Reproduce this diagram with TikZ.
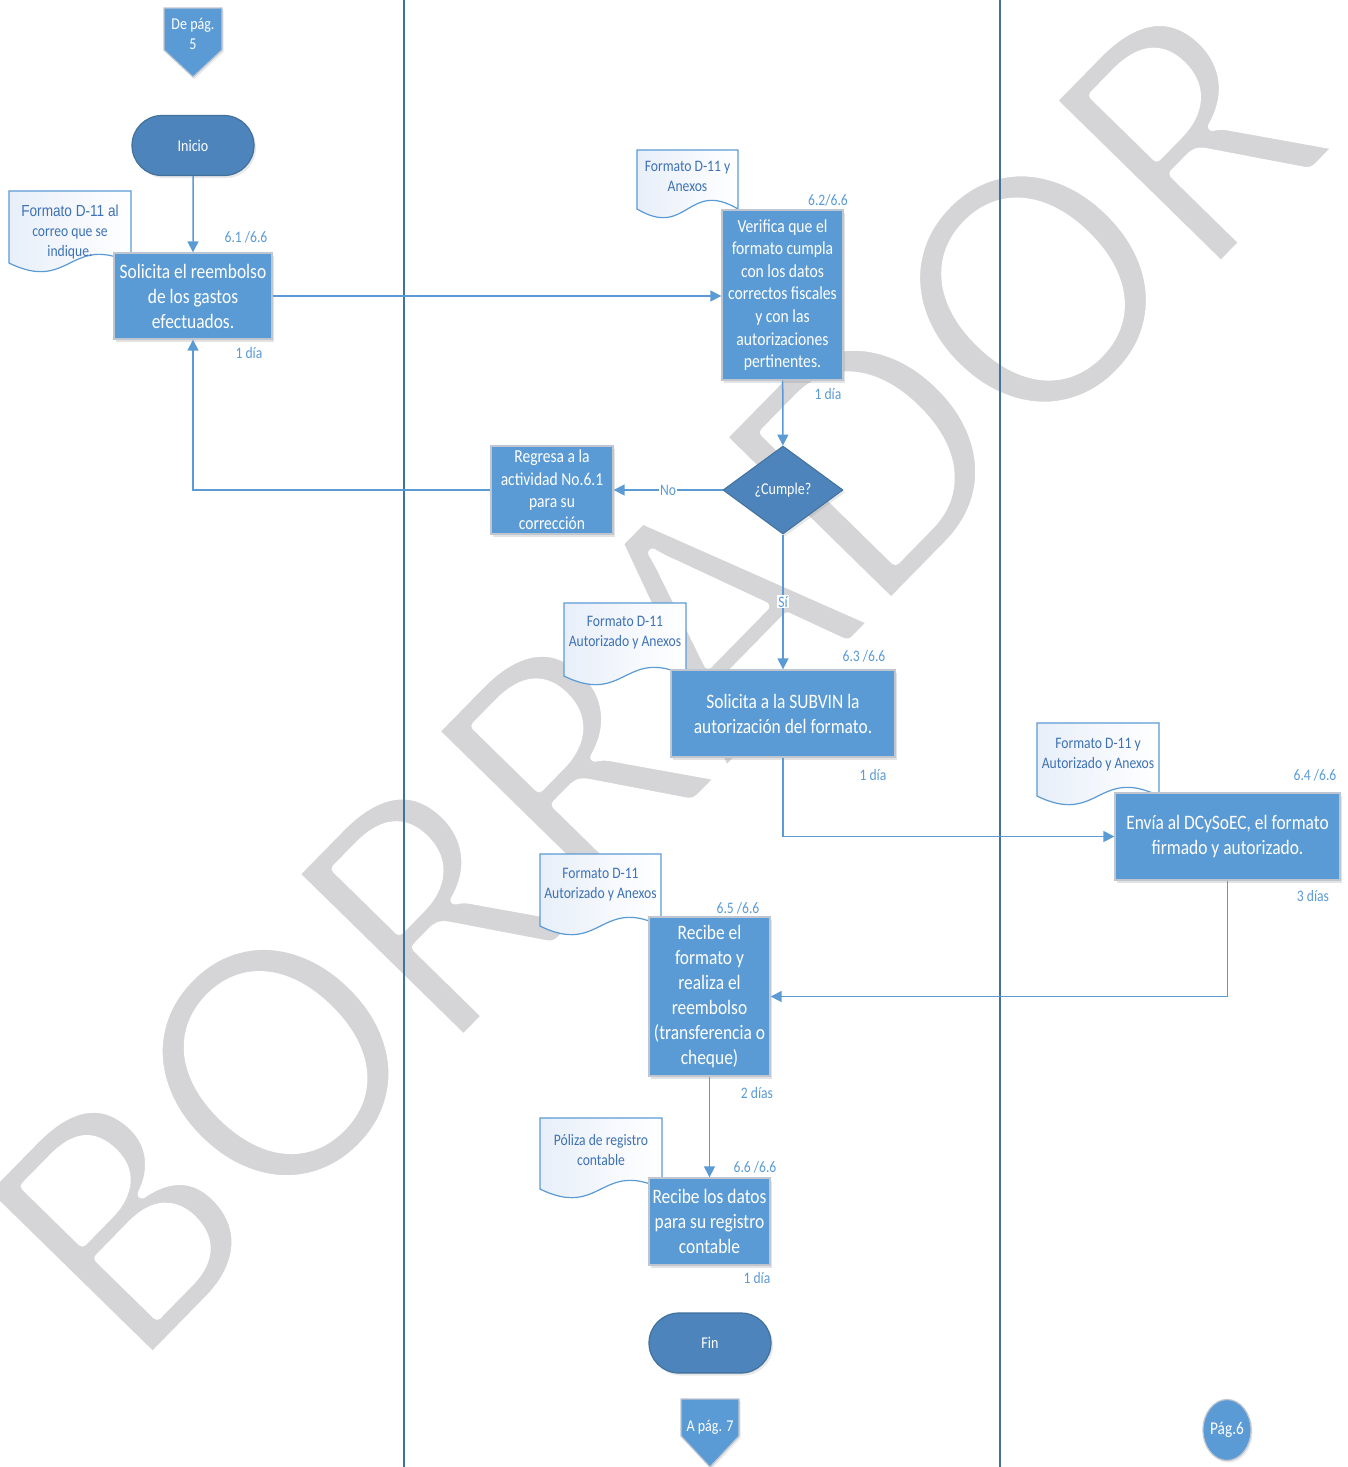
\documentclass[tikz,border=0pt]{standalone}
\usepackage{fontspec}
\setmainfont{Carlito}[FakeStretch=0.85]
\newfontfamily\arialc{Liberation Sans}[FakeStretch=0.85]
\newfontfamily\wmfont{Carlito}
\usetikzlibrary{shapes.geometric,shapes.misc,arrows.meta,shadows}

\definecolor{boxblue}{HTML}{5B9BD5}
\definecolor{termblue}{HTML}{4D84BB}
\definecolor{termedge}{HTML}{41719C}
\definecolor{boxedge}{HTML}{BFC6CF}
\definecolor{lanecol}{HTML}{41719C}
\definecolor{doctxt}{HTML}{3E72B5}
\definecolor{docfill}{HTML}{E8EFF9}
\definecolor{wmgray}{HTML}{D5D4D6}

% document symbol: name, left x, top y, right x, wave base y, text y, text
\newcommand\flowdoc[7]{%
  \draw[docshape] (#2,#3) -- (#4,#3) -- (#4,#5)
    .. controls ({(#2+#4)/2},{#5-30}) and ({(#2+#4)/2},{#5+30}) .. (#2,#5) -- cycle;
  \node[doctext] (#1) at ({(#2+#4)/2},#6) {#7};
}
% light-weight watermark letters: glyphs filled, then outlined in white
\newcommand\thinletters[1]{%
  \special{pdf:literal direct 2 Tr 9 w 1 1 1 RG 1 j}#1\special{pdf:literal direct 0 Tr}}

\begin{document}
\begin{tikzpicture}[x=1pt,y=-1pt,
  procbox/.style={draw=boxedge, line width=1.4pt, fill=boxblue, text=white,
    align=center, inner sep=0pt,
    drop shadow={shadow xshift=2pt, shadow yshift=-2.5pt, opacity=0.22}},
  termbox/.style={rounded rectangle, draw=termedge, line width=1.2pt, fill=termblue,
    text=white, inner sep=0pt, minimum width=122pt, minimum height=60pt,
    font=\fontsize{16.5}{19}\selectfont,
    drop shadow={shadow xshift=2pt, shadow yshift=-2.5pt, opacity=0.18}},
  decision/.style={diamond, draw=termedge, line width=1pt, fill=termblue, text=white,
    inner sep=0pt, aspect=1.36, minimum width=120pt, minimum height=88pt,
    font=\fontsize{16.5}{19}\selectfont,
    drop shadow={shadow xshift=2pt, shadow yshift=-2.5pt, opacity=0.18}},
  flow/.style={draw=boxblue, line width=1.5pt, -{Triangle[length=11pt,width=11pt]}},
  lbl/.style={text=boxblue, font=\fontsize{16}{18}\selectfont, inner sep=0pt},
  flowlbl/.style={text=boxblue, fill=white, font=\fontsize{16}{18}\selectfont, inner sep=1pt},
  doctext/.style={text=doctxt, align=center, inner sep=0pt, font=\fontsize{16}{20}\selectfont},
  docshape/.style={draw=boxblue, line width=1.2pt, left color=docfill, right color=white},
  lane/.style={draw=lanecol, line width=2pt},
  offpage/.style={draw=boxedge, line width=1.2pt, fill=boxblue,
    drop shadow={shadow xshift=1.5pt, shadow yshift=-2pt, opacity=0.18}},
  pagetext/.style={text=white, align=center, inner sep=0pt, font=\fontsize{16.5}{20}\selectfont},
  wm/.style={text=wmgray, inner sep=0pt, font=\wmfont\fontsize{368}{368}\selectfont}
]
\useasboundingbox (0,0) rectangle (1347,1467);
\fill[white] (0,0) rectangle (1347,1467);

% draft watermark
\node[wm, rotate=45.6] (wmark) at (654,676) {\thinletters{BORRADOR}};

% swimlane dividers
\coordinate (laneAtop) at (404,0);  \coordinate (laneAbot) at (404,1467);
\coordinate (laneBtop) at (1000,0); \coordinate (laneBbot) at (1000,1467);
\draw[lane] (laneAtop) -- (laneAbot);
\draw[lane] (laneBtop) -- (laneBbot);

% off-page connector in
\draw[offpage] (164,8) -- (222,8) -- (222,50) -- (193,77) -- (164,50) -- cycle;
\node[pagetext] (depag) at (193,34) {De pág.\\5};

% terminators
\node[termbox] (inicio) at (193,145.5) {Inicio};
\node[termbox] (fin) at (710,1343) {Fin};

% documents (drawn before the boxes that overlap them)
\flowdoc{doc1}{9}{191}{131}{263}{232}{\arialc Formato D-11 al\\correo que se\\indique.}
\flowdoc{doc2}{637}{150}{738}{209}{176}{Formato D-11 y\\Anexos}
\flowdoc{doc3}{564}{603}{686}{676}{633}{Formato D-11\\Autorizado y Anexos}
\flowdoc{doc4}{1037}{723}{1159}{796}{755}{Formato D-11 y\\Autorizado y Anexos}
\flowdoc{doc5}{540}{854}{661}{926}{885}{Formato D-11\\Autorizado y Anexos}
\flowdoc{doc6}{540}{1118}{662}{1189}{1150}{Póliza de registro\\contable}

% activities
\node[procbox, minimum width=158pt, minimum height=86pt,
  font=\fontsize{20.5}{25}\selectfont] (sol) at (193,296)
  {Solicita el reembolso\\de los gastos\\efectuados.};
\node[procbox, minimum width=121pt, minimum height=170pt,
  font=\fontsize{18.4}{22.6}\selectfont] (ver) at (782.5,295)
  {Verifica que el\\formato cumpla\\con los datos\\correctos fiscales\\y con las\\autorizaciones\\pertinentes.};
\node[decision] (dia) at (783,490) {¿Cumple?};
\node[procbox, minimum width=122pt, minimum height=88pt,
  font=\fontsize{18.3}{22.3}\selectfont] (reg) at (552,490)
  {Regresa a la\\actividad No.6.1\\para su\\corrección};
\node[procbox, minimum width=224pt, minimum height=87pt,
  font=\fontsize{20.5}{25}\selectfont] (subvin) at (783,713.5)
  {Solicita a la SUBVIN la\\autorización del formato.};
\node[procbox, minimum width=225pt, minimum height=87pt,
  font=\fontsize{20.5}{24.5}\selectfont] (envia) at (1227.5,836.5)
  {Envía al DCySoEC, el formato\\firmado y autorizado.};
\node[procbox, minimum width=121pt, minimum height=159pt,
  font=\fontsize{20.5}{25}\selectfont] (recibe) at (709.5,996.5)
  {Recibe el\\formato y\\realiza el\\reembolso\\(transferencia o\\cheque)};
\node[procbox, minimum width=121pt, minimum height=87pt,
  font=\fontsize{20.5}{25}\selectfont] (datos) at (709.5,1221.5)
  {Recibe los datos\\para su registro\\contable};

% off-page connector out and page marker
\draw[offpage] (681,1399) -- (739,1399) -- (739,1436) -- (710,1467) -- (681,1436) -- cycle;
\node[pagetext] (apag) at (710,1427) {A pág. 7};
\node[ellipse, draw=boxedge, line width=1.2pt, fill=boxblue, minimum width=48pt,
  minimum height=61pt, inner sep=0pt,
  drop shadow={shadow xshift=1.5pt, shadow yshift=-2pt, opacity=0.18}] (pag) at (1227,1430) {};
\node[pagetext, font=\fontsize{18}{20}\selectfont] (pagtxt) at (pag.center) {Pág.6};

% step numbers and durations
\node[lbl] (n1) at (246,237) {6.1 /6.6};
\node[lbl] (t1) at (249,353) {1 día};
\node[lbl] (n2) at (828,200) {6.2/6.6};
\node[lbl] (t2) at (828,394) {1 día};
\node[lbl] (n3) at (864,656) {6.3 /6.6};
\node[lbl] (t3) at (873,775) {1 día};
\node[lbl] (n4) at (1315,775) {6.4 /6.6};
\node[lbl] (t4) at (1313,896) {3 días};
\node[lbl] (n5) at (738,908) {6.5 /6.6};
\node[lbl] (t5) at (757,1093) {2 días};
\node[lbl] (n6) at (755,1167) {6.6 /6.6};
\node[lbl] (t6) at (757,1278) {1 día};

% connectors
\draw[flow] (inicio) -- (sol);
\draw[flow] (sol.east) -- (sol.east -| ver.west);
\draw[flow] (ver) -- (dia);
\draw[flow] (dia.west) -- node[flowlbl] {No} (reg.east);
\draw[flow] (reg.west) -| (sol.south);
\draw[flow] (dia.south) -- node[flowlbl, pos=0.5] {Sí} (subvin.north);
\draw[flow] (subvin.south) |- (envia.west);
\draw[flow] (envia.south) |- (recibe.east);
\draw[flow] (recibe) -- (datos);
\end{tikzpicture}
\end{document}
